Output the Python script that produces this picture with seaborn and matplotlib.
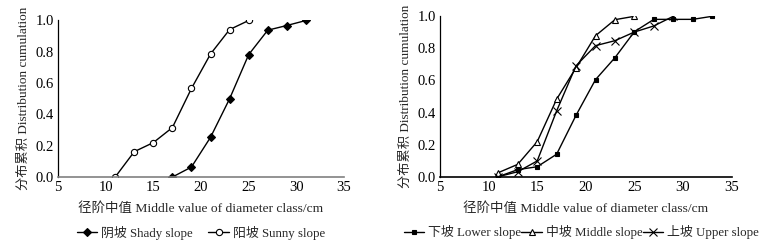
import matplotlib
matplotlib.use("Agg")
import matplotlib.pyplot as plt
import seaborn as sns
import pandas as pd

# Left panel data
shady_x = [17, 19, 21, 23, 25, 27, 29, 31]
shady_y = [0.0, 0.064, 0.254, 0.50, 0.782, 0.938, 0.968, 1.0]
sunny_x = [11, 13, 15, 17, 19, 21, 23, 25]
sunny_y = [0.0, 0.162, 0.22, 0.316, 0.566, 0.786, 0.942, 1.0]

# Right panel data
lower_x = [11, 13, 15, 17, 19, 21, 23, 25, 27, 29, 31, 33]
lower_y = [0.0, 0.044, 0.062, 0.14, 0.383, 0.605, 0.742, 0.904, 0.981, 0.981, 0.981, 1.0]
middle_x = [11, 13, 15, 17, 19, 21, 23, 25]
middle_y = [0.025, 0.077, 0.218, 0.483, 0.68, 0.879, 0.979, 1.0]
upper_x = [11, 13, 15, 17, 19, 21, 23, 25, 27, 29]
upper_y = [0.0, 0.031, 0.098, 0.41, 0.692, 0.817, 0.848, 0.902, 0.94, 1.0]

left_labels = ["阴坡 Shady slope", "阳坡 Sunny slope"]
right_labels = ["下坡 Lower slope", "中坡 Middle slope", "上坡 Upper slope"]
xlabel = "径阶中值 Middle value of diameter class/cm"
ylabel = "分布累积 Distribution cumulation"
xticks = [5, 10, 15, 20, 25, 30, 35]
yticks = [0.0, 0.2, 0.4, 0.6, 0.8, 1.0]

sns.set_theme(style="white")
fam = ["Liberation Serif", "Noto Sans CJK SC"]
plt.rcParams["font.family"] = fam
plt.rcParams["axes.unicode_minus"] = False

fig = plt.figure(figsize=(7.75, 2.49), dpi=100)
axL = fig.add_axes([0.0748, 0.289, 0.3691, 0.6287])
axR = fig.add_axes([0.5677, 0.2904, 0.3763, 0.6441])

def draw(ax, xs, ys, marker, ms, mfc, label):
    df = pd.DataFrame({"x": xs, "y": ys})
    sns.lineplot(data=df, x="x", y="y", ax=ax, color="black", lw=1.0,
                 marker=marker, markersize=ms, markerfacecolor=mfc,
                 markeredgecolor="black", markeredgewidth=0.8, label=label)

draw(axL, shady_x, shady_y, "D", 4.5, "black", left_labels[0])
draw(axL, sunny_x, sunny_y, "o", 4.5, "white", left_labels[1])

draw(axR, lower_x, lower_y, "s", 3, "black", right_labels[0])
draw(axR, middle_x, middle_y, "^", 5, "white", right_labels[1])
draw(axR, upper_x, upper_y, "x", 5.5, "black", right_labels[2])

for ax, spine_col in [(axL, "#808080"), (axR, "black")]:
    ax.set_xlim(5, 35)
    ax.set_ylim(0, 1.0)
    ax.set_xticks(xticks)
    ax.set_yticks(yticks)
    ax.set_xticklabels([str(t) for t in xticks])
    ax.set_yticklabels([f"{t:.1f}" for t in yticks])
    for s in ["top", "right"]:
        ax.spines[s].set_visible(False)
    ax.spines["left"].set_color("black")
    ax.spines["left"].set_linewidth(0.9)
    ax.spines["bottom"].set_color(spine_col)
    ax.spines["bottom"].set_linewidth(1.2)
    ax.tick_params(axis="both", direction="in", length=3, width=0.8,
                   colors="black", labelsize=10.5, pad=3)
    ax.set_xlabel(xlabel, fontsize=9.7, labelpad=6, family=fam)
    ax.set_ylabel(ylabel, fontsize=9.5, labelpad=4, family=fam)
    ax.grid(False)
    ax.set_facecolor("white")

legL = axL.legend(loc="center", bbox_to_anchor=(0.5, -0.355), ncol=2,
                  frameon=False, prop={"family": fam, "size": 9.3},
                  handlelength=1.6, columnspacing=1.2, handletextpad=0.3,
                  borderaxespad=0, borderpad=0)
legR = axR.legend(loc="center", bbox_to_anchor=(0.485, -0.345), ncol=3,
                  frameon=False, prop={"family": fam, "size": 9.3},
                  handlelength=1.6, columnspacing=0.0, handletextpad=0.3,
                  borderaxespad=0, borderpad=0)

fig.savefig("out.png", dpi=100, facecolor="white")
